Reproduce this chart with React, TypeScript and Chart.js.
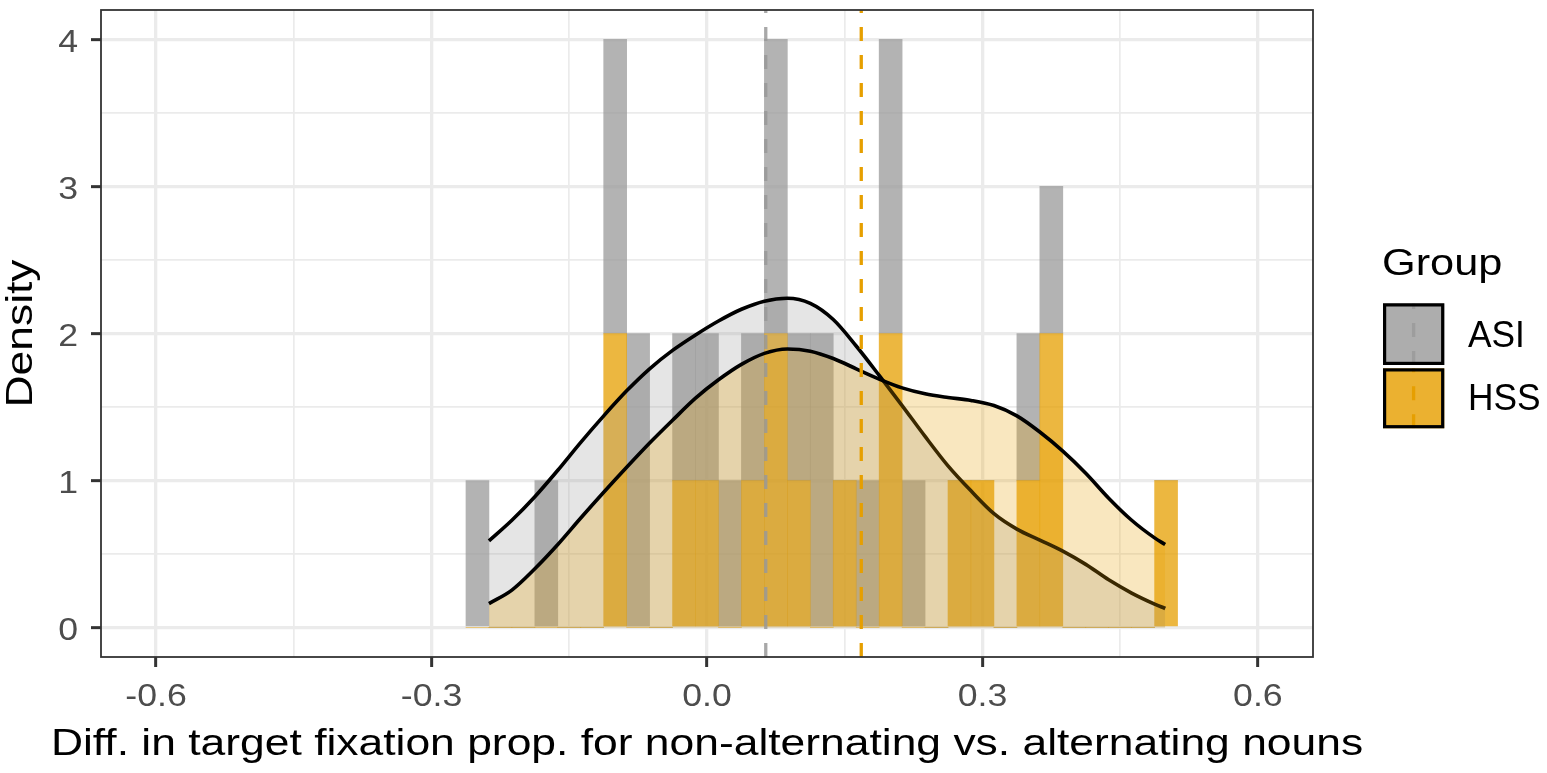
import React, { useEffect, useRef } from 'react';
import { Chart, registerables } from 'chart.js';

Chart.register(...registerables);

// ---- data ----
const binCenters = [-0.25, -0.225, -0.2, -0.175, -0.15, -0.125, -0.1, -0.075, -0.05, -0.025, 0, 0.025, 0.05, 0.075, 0.1, 0.125, 0.15, 0.175, 0.2, 0.225, 0.25, 0.275, 0.3, 0.325, 0.35, 0.375, 0.4, 0.425, 0.45, 0.475, 0.5];
const hssCounts = [0, 0, 0, 0, 0, 0, 2, 0, 0, 1, 1, 0, 1, 2, 1, 0, 1, 0, 2, 0, 0, 1, 1, 0, 1, 2, 0, 0, 0, 0, 1];
const asiCounts = [1, 0, 0, 1, 0, 0, 2, 2, 0, 1, 1, 1, 1, 2, 1, 2, 0, 1, 2, 1, 0, 0, 0, 0, 1, 1, 0, 0, 0, 0, 0];

const densityX = [-0.2375, -0.2125, -0.1875, -0.1625, -0.1375, -0.1125, -0.0875, -0.0625, -0.0375, -0.0125, 0.0125, 0.0375, 0.0625, 0.0875, 0.1125, 0.1375, 0.1625, 0.1875, 0.2125, 0.2375, 0.2625, 0.2875, 0.3125, 0.3375, 0.3625, 0.3875, 0.4125, 0.4375, 0.4625, 0.4875, 0.499];
const asiDensity = [0.59, 0.73, 0.89, 1.07, 1.26, 1.44, 1.61, 1.76, 1.885, 1.99, 2.085, 2.165, 2.22, 2.24, 2.205, 2.095, 1.915, 1.715, 1.51, 1.3, 1.1, 0.93, 0.775, 0.67, 0.595, 0.52, 0.43, 0.325, 0.235, 0.16, 0.13];
const hssDensity = [0.163, 0.255, 0.4, 0.565, 0.745, 0.92, 1.09, 1.255, 1.41, 1.56, 1.685, 1.79, 1.865, 1.895, 1.88, 1.83, 1.76, 1.69, 1.63, 1.59, 1.565, 1.545, 1.51, 1.44, 1.33, 1.2, 1.05, 0.88, 0.73, 0.61, 0.565];

const groupNames = ['ASI', 'HSS'];
const groupMeans = [0.064, 0.168];

const xMajorTicks = [-0.6, -0.3, 0, 0.3, 0.6];
const xMinorTicks = [-0.45, -0.15, 0.15, 0.45];
const xTickLabels = ['-0.6', '-0.3', '0.0', '0.3', '0.6'];
const yMajorTicks = [0, 1, 2, 3, 4];
const yMinorTicks = [0.5, 1.5, 2.5, 3.5];
const yTickLabels = ['0', '1', '2', '3', '4'];

const xTitle = 'Diff. in target fixation prop. for non-alternating vs. alternating nouns';
const yTitle = 'Density';
const legendTitle = 'Group';

// ---- styles ----
const X_MIN = -0.66, X_MAX = 0.66, Y_MIN = -0.2, Y_MAX = 4.2;
const GRAY = '153,153,153';
const ORANGE = '230,159,0';
const FONT = '"Liberation Sans", Arial, Helvetica, sans-serif';

function isIn(v: number, arr: number[]) {
  return arr.some((a) => Math.abs(a - v) < 1e-9);
}

function drawText(ctx: CanvasRenderingContext2D, text: string, x: number, y: number, size: number, color: string, align: CanvasTextAlign, sx: number, rotate = 0) {
  ctx.save();
  ctx.translate(x, y);
  if (rotate) ctx.rotate(rotate);
  ctx.scale(sx, 1);
  ctx.font = `${size}px ${FONT}`;
  ctx.fillStyle = color;
  ctx.textAlign = align;
  ctx.textBaseline = 'alphabetic';
  ctx.fillText(text, 0, 0);
  ctx.restore();
}

const ggPlugin = {
  id: 'ggDecor',
  afterDraw(chart: any) {
    const { ctx, chartArea, scales } = chart;
    const xs = scales.x, ys = scales.y;
    ctx.save();
    // panel border
    ctx.strokeStyle = '#333333';
    ctx.lineWidth = 1.8;
    ctx.strokeRect(chartArea.left, chartArea.top, chartArea.right - chartArea.left, chartArea.bottom - chartArea.top);

    // tick labels
    xMajorTicks.forEach((v, i) => {
      drawText(ctx, xTickLabels[i], xs.getPixelForValue(v), chartArea.bottom + 49, 30.5, '#4d4d4d', 'center', 1.17);
    });
    yMajorTicks.forEach((v, i) => {
      drawText(ctx, yTickLabels[i], chartArea.left - 23, ys.getPixelForValue(v) + 12.5, 30.5, '#4d4d4d', 'right', 1.17);
    });

    // axis titles
    drawText(ctx, xTitle, (chartArea.left + chartArea.right) / 2, chartArea.bottom + 98, 37, '#000000', 'center', 1.2);
    drawText(ctx, yTitle, 32, (chartArea.top + chartArea.bottom) / 2, 37, '#000000', 'center', 1.2, -Math.PI / 2);

    // legend
    const lx = chartArea.right + 70;
    drawText(ctx, legendTitle, lx - 1, 275, 37, '#000000', 'left', 1.17);
    const keys = [
      { fill: 'rgb(173,173,173)', line: `rgba(${GRAY},0.8)`, top: 303.3, h: 61.7 },
      { fill: 'rgb(235,177,48)', line: `rgb(${ORANGE})`, top: 368.3, h: 60 },
    ];
    keys.forEach((k, i) => {
      ctx.fillStyle = k.fill;
      ctx.fillRect(lx, k.top, 61.3, k.h);
      ctx.save();
      ctx.beginPath();
      ctx.rect(lx, k.top, 61.3, k.h);
      ctx.clip();
      ctx.strokeStyle = k.line;
      ctx.lineWidth = 3.3;
      ctx.setLineDash([14, 14]);
      ctx.beginPath();
      ctx.moveTo(lx + 30.6, k.top + k.h);
      ctx.lineTo(lx + 30.6, k.top);
      ctx.stroke();
      ctx.restore();
      ctx.strokeStyle = '#000000';
      ctx.lineWidth = 3.2;
      ctx.setLineDash([]);
      ctx.strokeRect(lx + 1.6, k.top + 1.6, 58.1, k.h - 3.2);
      drawText(ctx, groupNames[i], lx + 85, k.top + (i === 0 ? 43.4 : 41.7), 36, '#000000', 'left', 0.98);
    });
    ctx.restore();
  },
};

const gridStyle = (majors: number[]) => ({
  color: '#ebebeb',
  lineWidth: (c: any) => (c.tick && isIn(c.tick.value, majors) ? 3.3 : 1.7),
  drawTicks: true,
  tickLength: 10,
  tickWidth: 3,
  tickColor: (c: any) => (c.tick && isIn(c.tick.value, majors) ? '#333333' : 'rgba(0,0,0,0)'),
  offset: false,
});

export default function App() {
  const canvasRef = useRef<HTMLCanvasElement | null>(null);

  useEffect(() => {
    if (!canvasRef.current) return;
    const chart = new Chart(canvasRef.current, {
      type: 'bar',
      data: {
        datasets: [
          {
            type: 'bar',
            label: 'HSS',
            data: binCenters.map((x, i) => ({ x, y: hssCounts[i] })),
            backgroundColor: `rgba(${ORANGE},0.75)`,
            borderWidth: 0,
            barPercentage: 1,
            categoryPercentage: 1,
            stack: 'hist',
            order: 10,
          },
          {
            type: 'bar',
            label: 'ASI',
            data: binCenters.map((x, i) => ({ x, y: asiCounts[i] })),
            backgroundColor: `rgba(${GRAY},0.75)`,
            borderWidth: 0,
            barPercentage: 1,
            categoryPercentage: 1,
            stack: 'hist',
            order: 11,
          },
          {
            type: 'line',
            label: 'ASI density',
            data: densityX.map((x, i) => ({ x, y: asiDensity[i] })),
            borderColor: '#000000',
            borderWidth: 3.6,
            backgroundColor: `rgba(${GRAY},0.25)`,
            fill: 'origin',
            pointRadius: 0,
            cubicInterpolationMode: 'monotone',
            stack: 'densA',
            order: 6,
          },
          {
            type: 'line',
            label: 'HSS density',
            data: densityX.map((x, i) => ({ x, y: hssDensity[i] })),
            borderColor: '#000000',
            borderWidth: 3.6,
            backgroundColor: `rgba(${ORANGE},0.25)`,
            fill: 'origin',
            pointRadius: 0,
            cubicInterpolationMode: 'monotone',
            stack: 'densH',
            order: 5,
          },
          {
            type: 'line',
            label: 'ASI mean',
            data: [{ x: groupMeans[0], y: Y_MIN }, { x: groupMeans[0], y: Y_MAX }],
            borderColor: `rgba(${GRAY},0.85)`,
            borderWidth: 3.3,
            borderDash: [14, 14],
            pointRadius: 0,
            fill: false,
            stack: 'meanA',
            order: 2,
          },
          {
            type: 'line',
            label: 'HSS mean',
            data: [{ x: groupMeans[1], y: Y_MIN }, { x: groupMeans[1], y: Y_MAX }],
            borderColor: `rgb(${ORANGE})`,
            borderWidth: 3.3,
            borderDash: [14, 14],
            pointRadius: 0,
            fill: false,
            stack: 'meanH',
            order: 1,
          },
        ],
      } as any,
      options: {
        responsive: false,
        animation: false,
        events: [],
        devicePixelRatio: 1,
        layout: { padding: { top: 10, right: 234, left: 0, bottom: 0 } },
        plugins: {
          legend: { display: false },
          tooltip: { enabled: false },
          title: { display: false },
        },
        scales: {
          x: {
            type: 'linear',
            min: X_MIN,
            max: X_MAX,
            offset: false,
            afterBuildTicks: (s: any) => {
              s.ticks = [...xMajorTicks, ...xMinorTicks].sort((a, b) => a - b).map((v) => ({ value: v }));
            },
            afterFit: (s: any) => {
              s.height = 116;
            },
            ticks: { display: false },
            grid: gridStyle(xMajorTicks) as any,
            border: { display: false },
          },
          y: {
            type: 'linear',
            min: Y_MIN,
            max: Y_MAX,
            stacked: true,
            afterBuildTicks: (s: any) => {
              s.ticks = [...yMajorTicks, ...yMinorTicks].sort((a, b) => a - b).map((v) => ({ value: v }));
            },
            afterFit: (s: any) => {
              s.width = 101;
            },
            ticks: { display: false },
            grid: gridStyle(yMajorTicks) as any,
            border: { display: false },
          },
        },
      } as any,
      plugins: [ggPlugin],
    });
    return () => chart.destroy();
  }, []);

  return (
    <div style={{ position: 'fixed', left: 0, top: 0, width: 1547, height: 773, background: '#ffffff' }}>
      <canvas ref={canvasRef} width={1547} height={773} style={{ display: 'block', width: 1547, height: 773 }} />
    </div>
  );
}
